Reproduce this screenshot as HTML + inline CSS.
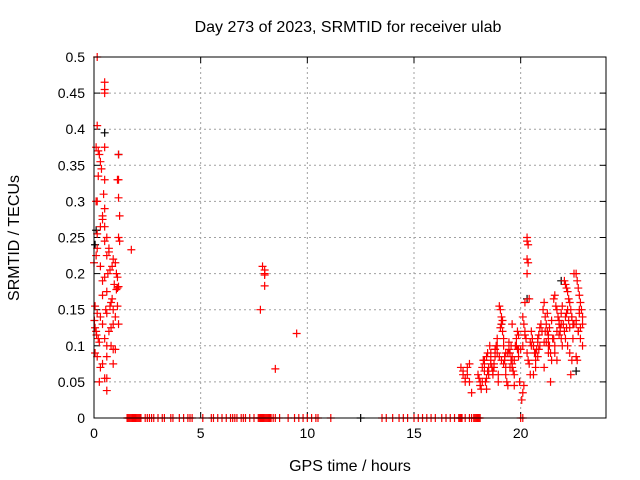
<!DOCTYPE html>
<html><head><meta charset="utf-8"><style>
body{margin:0;background:#fff}
svg{display:block;font-family:"Liberation Sans",sans-serif}
</style></head><body>
<svg id="chart" width="640" height="480">
<text x="348" y="32" text-anchor="middle" font-size="16">Day 273 of 2023, SRMTID for receiver ulab</text>
<text x="350" y="471" text-anchor="middle" font-size="16">GPS time / hours</text>
<text transform="translate(19,238) rotate(-90)" text-anchor="middle" font-size="16">SRMTID / TECUs</text>
<g id="grid"></g><g id="ticks"></g><g id="marks"></g>
<rect x="94" y="57" width="512" height="361" fill="none" stroke="#000" stroke-width="1"/>
</svg>
<script>
const xTicks=[0,5,10,15,20];
const yTicks=[0,0.05,0.1,0.15,0.2,0.25,0.3,0.35,0.4,0.45,0.5];
const yTickLabels=["0","0.05","0.1","0.15","0.2","0.25","0.3","0.35","0.4","0.45","0.5"];
const redT=[0.15,0.5,0.5,0.5,0.15,0.1,0.5,0.2,0.25,1.15,0.3,0.35,0.2,0.5,1.15,1.1,0.45,1.15,0.1,0.15,0.5,1.2,0.4,0.4,0.3,0.5,0.15,0.6,0.5,1.15,1.2,0.15,0.7,0.7,1.75,0.1,0.6,0.0,0.9,1.0,0.85,0.3,0.75,1.05,1.1,0.65,0.5,0.4,0.95,1.1,1.05,1.15,0.6,0.4,0.85,0.8,0.75,0.55,0.6,0.9,1.1,0.05,0.15,0.3,0.4,1.15,0.02,0.05,0.1,0.12,0.2,0.25,0.5,0.6,0.8,0.9,0.05,0.15,0.6,0.4,0.3,0.9,0.5,0.6,0.25,0.6,1.0,0.7,0.8,0.9,1.0,
7.9,8.0,8.0,8.0,8.0,7.8,8.5,9.5,
17.2,17.3,17.3,17.4,17.4,17.5,17.5,17.6,17.6,17.7,
18.0,18.05,18.1,18.1,18.15,18.2,18.25,18.3,18.3,18.35,18.4,18.4,18.45,18.5,
18.55,18.6,18.6,18.65,18.7,18.7,18.75,18.8,18.8,18.85,18.9,18.9,18.95,18.95,
19.0,19.05,19.1,19.1,19.15,19.2,19.2,19.25,19.3,19.3,19.35,19.4,19.4,19.45,19.45,19.05,19.15,
19.5,19.55,19.6,19.6,19.65,19.7,19.75,19.8,19.85,19.9,19.9,19.95,19.7,19.6,
20.3,20.3,20.35,20.3,20.35,20.3,20.4,20.2,20.1,20.15,20.2,20.25,20.1,20.3,20.35,20.4,20.45,20.05,20.1,20.15,20.45,20.2,
20.5,20.55,20.6,20.65,20.7,20.75,20.8,20.85,20.9,20.95,20.6,20.7,20.8,
21.1,21.05,21.15,21.2,21.25,21.3,21.35,21.4,21.45,21.1,21.4,21.2,21.3,21.35,21.45,21.25,
21.6,21.55,21.65,21.7,21.75,21.8,21.85,21.9,21.95,21.6,21.7,21.8,21.9,21.95,
22.05,22.1,22.15,22.2,22.25,22.3,22.35,22.4,22.45,22.05,22.1,22.2,22.3,22.4,22.35,22.5,22.15,22.25,
22.6,22.65,22.7,22.75,22.8,22.85,22.9,22.6,22.7,22.8,22.9,22.6,22.65,22.75,
18.3,18.5,18.7,18.9,19.0,19.2,19.4,19.6,19.8,19.9,20.0,20.6,20.8,21.0,21.3,21.5,21.7,21.9,22.1,22.3,22.5,22.7,22.9,
18.4,18.6,18.8,19.1,19.3,19.5,19.7,20.5,20.7,20.9,21.1,21.3,21.6,21.8,22.0,22.2,22.4,22.6,22.8,
18.2,18.45,18.75,19.25,19.55,19.85,20.55,20.85,21.15,21.55,21.85,22.15,22.45,22.75];
const redV=[0.5,0.465,0.455,0.45,0.405,0.375,0.375,0.37,0.365,0.365,0.355,0.345,0.335,0.33,0.33,0.33,0.31,0.305,0.3,0.3,0.29,0.28,0.28,0.275,0.265,0.265,0.255,0.25,0.245,0.25,0.245,0.235,0.235,0.23,0.233,0.225,0.225,0.215,0.22,0.215,0.21,0.21,0.205,0.2,0.195,0.2,0.195,0.19,0.185,0.18,0.178,0.182,0.175,0.17,0.165,0.16,0.155,0.15,0.145,0.15,0.155,0.155,0.145,0.14,0.13,0.13,0.135,0.125,0.12,0.115,0.11,0.105,0.11,0.1,0.1,0.095,0.09,0.085,0.085,0.075,0.07,0.075,0.055,0.055,0.05,0.038,0.095,0.12,0.125,0.13,0.14,
0.21,0.205,0.2,0.198,0.183,0.15,0.068,0.117,
0.07,0.065,0.06,0.055,0.05,0.06,0.07,0.075,0.05,0.035,
0.06,0.055,0.05,0.045,0.04,0.07,0.08,0.075,0.065,0.05,0.04,0.085,0.09,0.06,
0.1,0.09,0.08,0.07,0.065,0.06,0.075,0.085,0.095,0.1,0.11,0.09,0.05,0.06,
0.155,0.15,0.14,0.13,0.12,0.11,0.1,0.08,0.07,0.06,0.05,0.045,0.09,0.095,0.105,0.125,0.135,
0.09,0.08,0.075,0.07,0.065,0.06,0.1,0.11,0.12,0.095,0.085,0.05,0.045,0.13,
0.25,0.245,0.24,0.22,0.215,0.2,0.165,0.16,0.14,0.13,0.12,0.11,0.1,0.09,0.08,0.075,0.06,0.025,0.035,0.045,0.105,0.115,
0.12,0.11,0.1,0.09,0.08,0.095,0.105,0.115,0.125,0.13,0.06,0.07,0.085,
0.16,0.15,0.14,0.13,0.12,0.11,0.1,0.09,0.08,0.07,0.05,0.105,0.115,0.125,0.135,0.145,
0.17,0.165,0.155,0.15,0.14,0.13,0.12,0.11,0.1,0.09,0.08,0.135,0.145,0.155,
0.19,0.185,0.18,0.175,0.165,0.16,0.15,0.14,0.13,0.12,0.11,0.1,0.09,0.08,0.06,0.2,0.125,0.135,
0.2,0.19,0.18,0.17,0.16,0.15,0.14,0.13,0.12,0.11,0.1,0.085,0.08,0.145,
0.08,0.07,0.065,0.1,0.085,0.075,0.09,0.085,0.1,0.115,0.095,0.1,0.11,0.12,0.1,0.11,0.12,0.13,0.14,0.125,0.13,0.12,0.13,
0.055,0.075,0.095,0.08,0.09,0.07,0.08,0.1,0.09,0.1,0.105,0.09,0.1,0.115,0.13,0.15,0.14,0.135,0.125,
0.05,0.065,0.07,0.085,0.1,0.095,0.11,0.095,0.12,0.11,0.125,0.145,0.11,0.15];
const zeroT=[1.55,1.6,1.65,1.7,1.75,1.8,1.85,1.9,1.95,2.0,2.05,2.1,2.15,2.2,2.4,2.5,2.6,2.7,2.8,3.0,3.2,3.3,3.6,3.7,4.0,4.2,4.4,4.5,4.6,5.1,5.5,5.6,5.8,6.0,6.2,6.4,6.5,6.6,6.7,6.9,7.0,7.1,7.3,7.5,7.7,7.75,7.8,7.85,7.9,7.95,8.0,8.05,8.1,8.15,8.2,8.25,8.3,8.4,8.5,8.7,9.1,9.4,9.6,9.8,10.0,10.2,10.4,10.5,11.1,13.5,13.7,14.0,14.3,14.5,14.7,15.0,15.2,15.4,15.6,15.8,16.0,16.3,16.5,16.7,16.9,17.1,17.15,17.2,17.25,17.4,17.6,17.7,17.8,17.85,17.9,17.95,18.0,18.05,18.1,20.0,20.1];
const blackT=[0.5,0.1,0.05,1.15,19.1,20.3,22.6,21.9,12.5];
const blackV=[0.395,0.26,0.24,0.365,0.13,0.165,0.065,0.19,0];
const X0=94,X1=606,Y0=418,Y1=57;
const xs=t=>X0+(X1-X0)*t/24;
const ys=v=>Y0-(Y0-Y1)*v/0.5;
const NS="http://www.w3.org/2000/svg";
const grid=document.getElementById('grid'),ticks=document.getElementById('ticks'),marks=document.getElementById('marks');
function mk(tag,attrs,parent){const e=document.createElementNS(NS,tag);for(const k in attrs)e.setAttribute(k,attrs[k]);parent.appendChild(e);return e;}
xTicks.forEach(t=>{const x=xs(t);
 if(t>0){const g=mk('line',{x1:x,x2:x,y1:Y1,y2:Y0,stroke:'#a0a0a0','stroke-dasharray':'2,3'},grid);
 
 }
 mk('line',{x1:x,x2:x,y1:Y0,y2:Y0-6,stroke:'#000'},ticks);mk('line',{x1:x,x2:x,y1:Y1,y2:Y1+6,stroke:'#000'},ticks);
 const l=mk('text',{x:x,y:Y0+20,'text-anchor':'middle','font-size':14},ticks);l.textContent=t;
 
 });
yTicks.forEach((v,i)=>{const y=ys(v);
 if(v>0&&v<0.5){const g=mk('line',{x1:X0,x2:X1,y1:y,y2:y,stroke:'#a0a0a0','stroke-dasharray':'2,3'},grid);
 
 }
 mk('line',{x1:X0,x2:X0+6,y1:y,y2:y,stroke:'#000'},ticks);mk('line',{x1:X1,x2:X1-6,y1:y,y2:y,stroke:'#000'},ticks);
 const l=mk('text',{x:X0-9,y:y+5,'text-anchor':'end','font-size':14},ticks);l.textContent=yTickLabels[i];
 
 });
function cross(t,v,c,name){const x=xs(t),y=ys(v);
 const p=mk('path',{d:`M${x-4},${y}h8M${x},${y-4}v8`,stroke:c,'stroke-width':1.2,fill:'none'},marks);
 
 }
blackT.forEach((t,i)=>cross(t,blackV[i],'#000','black-point'));
redT.forEach((t,i)=>cross(t,redV[i],'#f00','red-point'));
zeroT.forEach(t=>cross(t,0,'#f00','zero-point'));
</script>
</body></html>
